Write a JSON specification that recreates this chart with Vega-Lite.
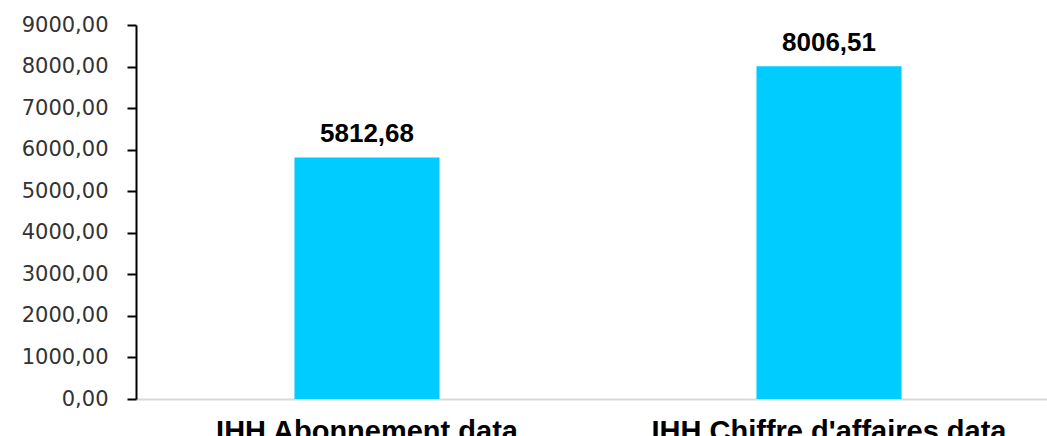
{
  "$schema": "https://vega.github.io/schema/vega-lite/v6.json",
  "autosize": "none",
  "width": 911,
  "height": 374,
  "padding": {"left": 136, "top": 25, "right": 0, "bottom": 37},
  "background": "white",
  "config": {
    "view": {"stroke": null},
    "locale": {"number": {"decimal": ",", "thousands": "", "grouping": [3], "currency": ["", ""]}}
  },
  "data": {"values": [
    {"category": "IHH Abonnement data", "value": 5812.68},
    {"category": "IHH Chiffre d'affaires data", "value": 8006.51}
  ]},
  "encoding": {
    "x": {
      "field": "category", "type": "nominal", "sort": null,
      "scale": {"range": [0, 924], "paddingInner": 0.686, "paddingOuter": 0.343},
      "axis": {
        "title": null, "labelAngle": 0, "ticks": false,
        "domainColor": "#d9d9d9", "domainWidth": 2,
        "labelFont": "Liberation Sans", "labelFontWeight": "bold", "labelFontSize": 29,
        "labelColor": "#000000", "labelBaseline": "alphabetic", "labelPadding": 41,
        "labelLimit": 0
      }
    },
    "y": {
      "field": "value", "type": "quantitative",
      "scale": {"domain": [0, 9000], "nice": false},
      "axis": {
        "title": null, "values": [0,1000,2000,3000,4000,5000,6000,7000,8000,9000],
        "format": ".2f", "grid": false,
        "domainColor": "#000000", "domainWidth": 2,
        "tickColor": "#000000", "tickWidth": 2, "tickSize": 9,
        "labelFont": "DejaVu Sans", "labelFontSize": 21, "labelColor": "#333333",
        "labelPadding": 19
      }
    }
  },
  "layer": [
    {"mark": {"type": "bar", "color": "#00CCFF"}},
    {
      "mark": {"type": "text", "baseline": "alphabetic", "dy": -15, "font": "Liberation Sans", "fontWeight": "bold", "fontSize": 26, "color": "#000000"},
      "encoding": {"text": {"field": "value", "type": "quantitative", "format": ".2f"}}
    }
  ]
}
